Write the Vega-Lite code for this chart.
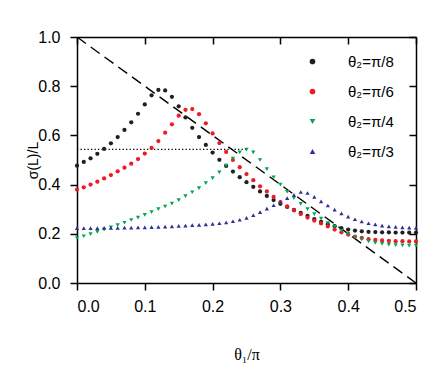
{
  "$schema": "https://vega.github.io/schema/vega-lite/v6.json",
  "autosize": "none",
  "width": 339,
  "height": 246,
  "padding": {"left": 77, "top": 37, "right": 20, "bottom": 92},
  "background": "white",
  "config": {
    "view": {"stroke": null},
    "axis": {"domainColor": "black", "domainWidth": 1.5, "tickColor": "black", "tickWidth": 1.5, "grid": false, "labelFont": "Liberation Sans", "labelColor": "black", "titleColor": "black", "titleFontWeight": "normal"}
  },
  "datasets": {
    "pts": [
      {"s":"θ₂=π/8","x":0,"y":0.477},{"s":"θ₂=π/8","x":0.01,"y":0.492},{"s":"θ₂=π/8","x":0.02,"y":0.507},{"s":"θ₂=π/8","x":0.03,"y":0.525},{"s":"θ₂=π/8","x":0.04,"y":0.545},{"s":"θ₂=π/8","x":0.05,"y":0.568},{"s":"θ₂=π/8","x":0.06,"y":0.593},{"s":"θ₂=π/8","x":0.07,"y":0.622},{"s":"θ₂=π/8","x":0.08,"y":0.653},{"s":"θ₂=π/8","x":0.09,"y":0.688},{"s":"θ₂=π/8","x":0.10,"y":0.726},{"s":"θ₂=π/8","x":0.11,"y":0.763},{"s":"θ₂=π/8","x":0.12,"y":0.785},{"s":"θ₂=π/8","x":0.13,"y":0.783},{"s":"θ₂=π/8","x":0.14,"y":0.757},{"s":"θ₂=π/8","x":0.15,"y":0.718},{"s":"θ₂=π/8","x":0.16,"y":0.673},{"s":"θ₂=π/8","x":0.17,"y":0.631},{"s":"θ₂=π/8","x":0.18,"y":0.593},{"s":"θ₂=π/8","x":0.19,"y":0.561},{"s":"θ₂=π/8","x":0.20,"y":0.530},{"s":"θ₂=π/8","x":0.21,"y":0.501},{"s":"θ₂=π/8","x":0.22,"y":0.476},{"s":"θ₂=π/8","x":0.23,"y":0.453},{"s":"θ₂=π/8","x":0.24,"y":0.430},{"s":"θ₂=π/8","x":0.25,"y":0.410},{"s":"θ₂=π/8","x":0.26,"y":0.391},{"s":"θ₂=π/8","x":0.27,"y":0.372},{"s":"θ₂=π/8","x":0.28,"y":0.354},{"s":"θ₂=π/8","x":0.29,"y":0.337},{"s":"θ₂=π/8","x":0.30,"y":0.322},{"s":"θ₂=π/8","x":0.31,"y":0.309},{"s":"θ₂=π/8","x":0.32,"y":0.297},{"s":"θ₂=π/8","x":0.33,"y":0.285},{"s":"θ₂=π/8","x":0.34,"y":0.273},{"s":"θ₂=π/8","x":0.35,"y":0.260},{"s":"θ₂=π/8","x":0.36,"y":0.249},{"s":"θ₂=π/8","x":0.37,"y":0.239},{"s":"θ₂=π/8","x":0.38,"y":0.231},{"s":"θ₂=π/8","x":0.39,"y":0.223},{"s":"θ₂=π/8","x":0.40,"y":0.217},{"s":"θ₂=π/8","x":0.41,"y":0.213},{"s":"θ₂=π/8","x":0.42,"y":0.210},{"s":"θ₂=π/8","x":0.43,"y":0.208},{"s":"θ₂=π/8","x":0.44,"y":0.207},{"s":"θ₂=π/8","x":0.45,"y":0.206},{"s":"θ₂=π/8","x":0.46,"y":0.206},{"s":"θ₂=π/8","x":0.47,"y":0.205},{"s":"θ₂=π/8","x":0.48,"y":0.205},{"s":"θ₂=π/8","x":0.49,"y":0.205},{"s":"θ₂=π/8","x":0.50,"y":0.205},
      {"s":"θ₂=π/6","x":0,"y":0.380},{"s":"θ₂=π/6","x":0.01,"y":0.389},{"s":"θ₂=π/6","x":0.02,"y":0.400},{"s":"θ₂=π/6","x":0.03,"y":0.412},{"s":"θ₂=π/6","x":0.04,"y":0.425},{"s":"θ₂=π/6","x":0.05,"y":0.439},{"s":"θ₂=π/6","x":0.06,"y":0.454},{"s":"θ₂=π/6","x":0.07,"y":0.469},{"s":"θ₂=π/6","x":0.08,"y":0.485},{"s":"θ₂=π/6","x":0.09,"y":0.504},{"s":"θ₂=π/6","x":0.10,"y":0.526},{"s":"θ₂=π/6","x":0.11,"y":0.549},{"s":"θ₂=π/6","x":0.12,"y":0.577},{"s":"θ₂=π/6","x":0.13,"y":0.611},{"s":"θ₂=π/6","x":0.14,"y":0.645},{"s":"θ₂=π/6","x":0.15,"y":0.680},{"s":"θ₂=π/6","x":0.16,"y":0.704},{"s":"θ₂=π/6","x":0.17,"y":0.707},{"s":"θ₂=π/6","x":0.18,"y":0.686},{"s":"θ₂=π/6","x":0.19,"y":0.649},{"s":"θ₂=π/6","x":0.20,"y":0.608},{"s":"θ₂=π/6","x":0.21,"y":0.569},{"s":"θ₂=π/6","x":0.22,"y":0.533},{"s":"θ₂=π/6","x":0.23,"y":0.500},{"s":"θ₂=π/6","x":0.24,"y":0.471},{"s":"θ₂=π/6","x":0.25,"y":0.443},{"s":"θ₂=π/6","x":0.26,"y":0.418},{"s":"θ₂=π/6","x":0.27,"y":0.393},{"s":"θ₂=π/6","x":0.28,"y":0.372},{"s":"θ₂=π/6","x":0.29,"y":0.350},{"s":"θ₂=π/6","x":0.30,"y":0.329},{"s":"θ₂=π/6","x":0.31,"y":0.311},{"s":"θ₂=π/6","x":0.32,"y":0.295},{"s":"θ₂=π/6","x":0.33,"y":0.280},{"s":"θ₂=π/6","x":0.34,"y":0.266},{"s":"θ₂=π/6","x":0.35,"y":0.254},{"s":"θ₂=π/6","x":0.36,"y":0.242},{"s":"θ₂=π/6","x":0.37,"y":0.230},{"s":"θ₂=π/6","x":0.38,"y":0.217},{"s":"θ₂=π/6","x":0.39,"y":0.206},{"s":"θ₂=π/6","x":0.40,"y":0.197},{"s":"θ₂=π/6","x":0.41,"y":0.189},{"s":"θ₂=π/6","x":0.42,"y":0.183},{"s":"θ₂=π/6","x":0.43,"y":0.178},{"s":"θ₂=π/6","x":0.44,"y":0.175},{"s":"θ₂=π/6","x":0.45,"y":0.173},{"s":"θ₂=π/6","x":0.46,"y":0.171},{"s":"θ₂=π/6","x":0.47,"y":0.170},{"s":"θ₂=π/6","x":0.48,"y":0.170},{"s":"θ₂=π/6","x":0.49,"y":0.169},{"s":"θ₂=π/6","x":0.50,"y":0.169},
      {"s":"θ₂=π/4","x":0,"y":0.183},{"s":"θ₂=π/4","x":0.01,"y":0.190},{"s":"θ₂=π/4","x":0.02,"y":0.199},{"s":"θ₂=π/4","x":0.03,"y":0.208},{"s":"θ₂=π/4","x":0.04,"y":0.217},{"s":"θ₂=π/4","x":0.05,"y":0.226},{"s":"θ₂=π/4","x":0.06,"y":0.235},{"s":"θ₂=π/4","x":0.07,"y":0.245},{"s":"θ₂=π/4","x":0.08,"y":0.256},{"s":"θ₂=π/4","x":0.09,"y":0.266},{"s":"θ₂=π/4","x":0.10,"y":0.277},{"s":"θ₂=π/4","x":0.11,"y":0.288},{"s":"θ₂=π/4","x":0.12,"y":0.300},{"s":"θ₂=π/4","x":0.13,"y":0.311},{"s":"θ₂=π/4","x":0.14,"y":0.323},{"s":"θ₂=π/4","x":0.15,"y":0.337},{"s":"θ₂=π/4","x":0.16,"y":0.353},{"s":"θ₂=π/4","x":0.17,"y":0.369},{"s":"θ₂=π/4","x":0.18,"y":0.386},{"s":"θ₂=π/4","x":0.19,"y":0.406},{"s":"θ₂=π/4","x":0.20,"y":0.426},{"s":"θ₂=π/4","x":0.21,"y":0.450},{"s":"θ₂=π/4","x":0.22,"y":0.477},{"s":"θ₂=π/4","x":0.23,"y":0.506},{"s":"θ₂=π/4","x":0.24,"y":0.531},{"s":"θ₂=π/4","x":0.25,"y":0.542},{"s":"θ₂=π/4","x":0.26,"y":0.531},{"s":"θ₂=π/4","x":0.27,"y":0.500},{"s":"θ₂=π/4","x":0.28,"y":0.463},{"s":"θ₂=π/4","x":0.29,"y":0.430},{"s":"θ₂=π/4","x":0.30,"y":0.400},{"s":"θ₂=π/4","x":0.31,"y":0.371},{"s":"θ₂=π/4","x":0.32,"y":0.345},{"s":"θ₂=π/4","x":0.33,"y":0.322},{"s":"θ₂=π/4","x":0.34,"y":0.300},{"s":"θ₂=π/4","x":0.35,"y":0.280},{"s":"θ₂=π/4","x":0.36,"y":0.262},{"s":"θ₂=π/4","x":0.37,"y":0.244},{"s":"θ₂=π/4","x":0.38,"y":0.228},{"s":"θ₂=π/4","x":0.39,"y":0.213},{"s":"θ₂=π/4","x":0.40,"y":0.200},{"s":"θ₂=π/4","x":0.41,"y":0.188},{"s":"θ₂=π/4","x":0.42,"y":0.177},{"s":"θ₂=π/4","x":0.43,"y":0.169},{"s":"θ₂=π/4","x":0.44,"y":0.163},{"s":"θ₂=π/4","x":0.45,"y":0.159},{"s":"θ₂=π/4","x":0.46,"y":0.156},{"s":"θ₂=π/4","x":0.47,"y":0.154},{"s":"θ₂=π/4","x":0.48,"y":0.153},{"s":"θ₂=π/4","x":0.49,"y":0.152},{"s":"θ₂=π/4","x":0.50,"y":0.152},
      {"s":"θ₂=π/3","x":0,"y":0.223},{"s":"θ₂=π/3","x":0.01,"y":0.223},{"s":"θ₂=π/3","x":0.02,"y":0.223},{"s":"θ₂=π/3","x":0.03,"y":0.223},{"s":"θ₂=π/3","x":0.04,"y":0.224},{"s":"θ₂=π/3","x":0.05,"y":0.224},{"s":"θ₂=π/3","x":0.06,"y":0.224},{"s":"θ₂=π/3","x":0.07,"y":0.225},{"s":"θ₂=π/3","x":0.08,"y":0.225},{"s":"θ₂=π/3","x":0.09,"y":0.226},{"s":"θ₂=π/3","x":0.10,"y":0.226},{"s":"θ₂=π/3","x":0.11,"y":0.227},{"s":"θ₂=π/3","x":0.12,"y":0.228},{"s":"θ₂=π/3","x":0.13,"y":0.229},{"s":"θ₂=π/3","x":0.14,"y":0.230},{"s":"θ₂=π/3","x":0.15,"y":0.232},{"s":"θ₂=π/3","x":0.16,"y":0.233},{"s":"θ₂=π/3","x":0.17,"y":0.235},{"s":"θ₂=π/3","x":0.18,"y":0.236},{"s":"θ₂=π/3","x":0.19,"y":0.238},{"s":"θ₂=π/3","x":0.20,"y":0.240},{"s":"θ₂=π/3","x":0.21,"y":0.243},{"s":"θ₂=π/3","x":0.22,"y":0.246},{"s":"θ₂=π/3","x":0.23,"y":0.251},{"s":"θ₂=π/3","x":0.24,"y":0.257},{"s":"θ₂=π/3","x":0.25,"y":0.265},{"s":"θ₂=π/3","x":0.26,"y":0.276},{"s":"θ₂=π/3","x":0.27,"y":0.288},{"s":"θ₂=π/3","x":0.28,"y":0.302},{"s":"θ₂=π/3","x":0.29,"y":0.316},{"s":"θ₂=π/3","x":0.30,"y":0.330},{"s":"θ₂=π/3","x":0.31,"y":0.345},{"s":"θ₂=π/3","x":0.32,"y":0.358},{"s":"θ₂=π/3","x":0.33,"y":0.370},{"s":"θ₂=π/3","x":0.34,"y":0.366},{"s":"θ₂=π/3","x":0.35,"y":0.350},{"s":"θ₂=π/3","x":0.36,"y":0.332},{"s":"θ₂=π/3","x":0.37,"y":0.315},{"s":"θ₂=π/3","x":0.38,"y":0.298},{"s":"θ₂=π/3","x":0.39,"y":0.283},{"s":"θ₂=π/3","x":0.40,"y":0.270},{"s":"θ₂=π/3","x":0.41,"y":0.259},{"s":"θ₂=π/3","x":0.42,"y":0.250},{"s":"θ₂=π/3","x":0.43,"y":0.243},{"s":"θ₂=π/3","x":0.44,"y":0.238},{"s":"θ₂=π/3","x":0.45,"y":0.233},{"s":"θ₂=π/3","x":0.46,"y":0.230},{"s":"θ₂=π/3","x":0.47,"y":0.228},{"s":"θ₂=π/3","x":0.48,"y":0.226},{"s":"θ₂=π/3","x":0.49,"y":0.225},{"s":"θ₂=π/3","x":0.50,"y":0.224}
    ],
    "diag": [{"x": 0, "y": 1}, {"x": 0.5, "y": 0}],
    "hdot": [{"x": 0, "y": 0.543}, {"x": 0.253, "y": 0.543}]
  },
  "resolve": {"axis": {"x": "independent", "y": "independent"}},
  "layer": [
    {
      "data": {"name": "diag"},
      "mark": {"type": "line", "color": "black", "strokeWidth": 1.4, "strokeDash": [11, 6], "clip": true},
      "encoding": {
        "x": {"field": "x", "type": "quantitative", "scale": {"domain": [0, 0.5], "nice": false},
          "axis": {"orient": "bottom", "values": [0, 0.1, 0.2, 0.3, 0.4, 0.5], "format": ".1f", "tickSize": 7, "labelFontSize": 16, "labelPadding": 8, "title": "θ₁/π", "titleFont": "Liberation Serif", "titleFontSize": 16, "titleY": 76, "titleBaseline": "alphabetic"}},
        "y": {"field": "y", "type": "quantitative", "scale": {"domain": [0, 1], "nice": false},
          "axis": {"orient": "left", "values": [0, 0.2, 0.4, 0.6, 0.8, 1.0], "format": ".1f", "tickSize": 7, "labelFontSize": 16, "labelPadding": 10, "title": "σ(L)/L", "titleFont": "Liberation Sans", "titleFontSize": 14, "titleAngle": -90, "titleX": -44, "titleY": 123, "titleBaseline": "middle", "titleAlign": "center"}}
      }
    },
    {
      "data": {"name": "hdot"},
      "mark": {"type": "line", "color": "black", "strokeWidth": 1.3, "strokeDash": [1.3, 2.2]},
      "encoding": {
        "x": {"field": "x", "type": "quantitative",
          "axis": {"orient": "top", "values": [0, 0.1, 0.2, 0.3, 0.4, 0.5], "labels": false, "tickSize": -7, "title": null}},
        "y": {"field": "y", "type": "quantitative",
          "axis": {"orient": "right", "values": [0, 0.2, 0.4, 0.6, 0.8, 1.0], "labels": false, "tickSize": -7, "title": null}}
      }
    },
    {
      "data": {"name": "pts"},
      "mark": {"type": "point", "filled": true, "opacity": 1, "size": 18},
      "encoding": {
        "x": {"field": "x", "type": "quantitative", "axis": null},
        "y": {"field": "y", "type": "quantitative", "axis": null},
        "color": {"field": "s", "type": "nominal",
          "scale": {"domain": ["θ₂=π/8", "θ₂=π/6", "θ₂=π/4", "θ₂=π/3"], "range": ["#231f20", "#ed1c24", "#00a651", "#2e3192"]},
          "legend": {"orient": "none", "legendX": 228, "legendY": 17, "title": null, "labelFont": "Liberation Sans", "labelFontSize": 15, "labelColor": "black", "symbolSize": 32, "labelOffset": 28, "rowPadding": 14, "padding": 0}},
        "shape": {"field": "s", "type": "nominal",
          "scale": {"domain": ["θ₂=π/8", "θ₂=π/6", "θ₂=π/4", "θ₂=π/3"], "range": ["circle", "circle", "triangle-down", "triangle-up"]},
          "legend": {"orient": "none", "legendX": 228, "legendY": 17, "title": null, "labelFont": "Liberation Sans", "labelFontSize": 15, "labelColor": "black", "symbolSize": 32, "labelOffset": 28, "rowPadding": 14, "padding": 0}}
      }
    }
  ]
}
